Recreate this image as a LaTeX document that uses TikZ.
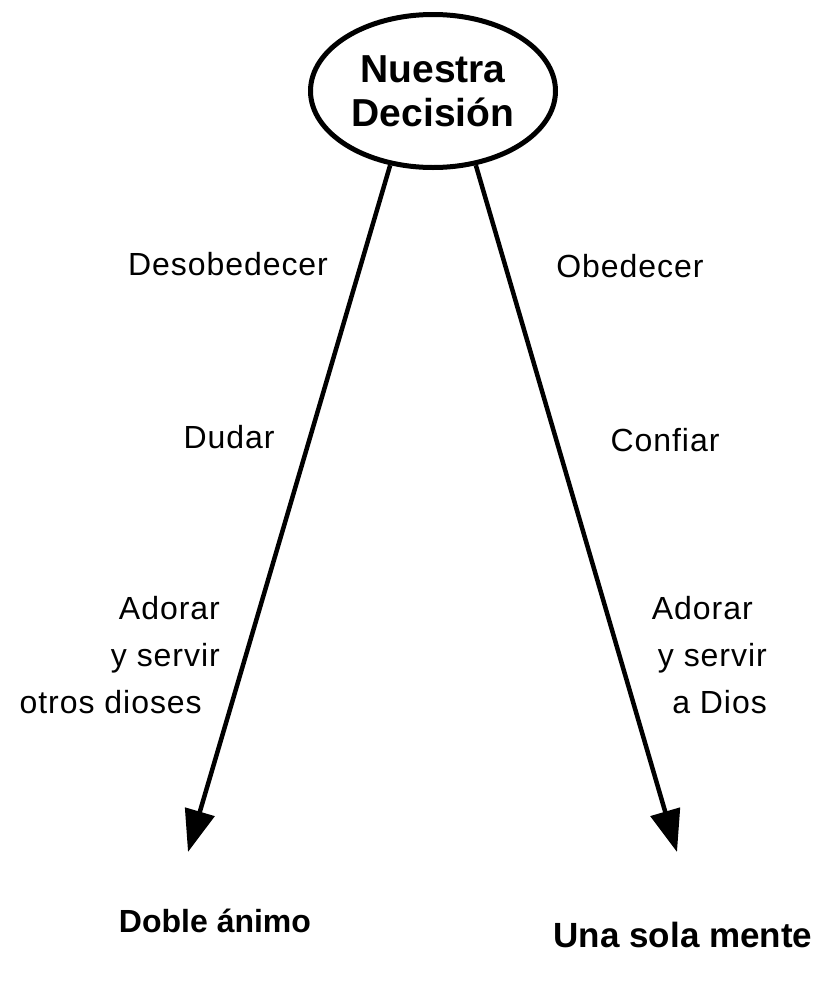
\documentclass[tikz,border=0pt]{standalone}
\usepackage{fontspec}
\setmainfont{Liberation Sans}
\newfontfamily\spacedfont[LetterSpace=3]{Liberation Sans}
\usetikzlibrary{arrows.meta,shapes.geometric}

\tikzset{
  paso/.style={font=\spacedfont\fontsize{32}{47}\selectfont, inner sep=0pt},
  fin/.style={inner sep=0pt, anchor=base},
  camino/.style={line width=4.5pt, -{Triangle[length=42pt,width=30pt]}}
}

\begin{document}
\begin{tikzpicture}[x=1pt, y=-1pt]
        \useasboundingbox (0,0) rectangle (837,983);
        \node[ellipse, draw, line width=5pt, minimum width=245pt, minimum height=153pt, inner sep=0pt, align=center,
              font=\bfseries\fontsize{39}{44}\selectfont] (decision) at (433,91) {Nuestra\\Decisión};
        \coordinate (dobletip) at (188,852);
        \coordinate (unatip) at (677,852);
        \draw[camino] (decision.240) -- (dobletip);
        \draw[camino] (decision.300) -- (unatip);
        \foreach \n/\x/\y/\t in {desob/228/264/Desobedecer, dudar/229/437/Dudar, obed/630/266/Obedecer, conf/665/440/Confiar}{
        \node[paso] (\n) at (\x,\y) {\t};}
        \node[paso, align=right, anchor=east] (otros) at (220,655) {Adorar\\y servir\\otros dioses\hspace*{18pt}};
        \node[paso, align=right, anchor=east] (dios) at (767,655) {Adorar\hspace*{14pt}\\y servir\\a Dios};
        \node[fin, font=\bfseries\fontsize{32}{38}\selectfont] (doble) at (215,932) {Doble ánimo};
        \node[fin, font=\bfseries\fontsize{35}{42}\selectfont] (unasola) at (683,947) {Una sola mente};
    \end{tikzpicture}
\end{document}
